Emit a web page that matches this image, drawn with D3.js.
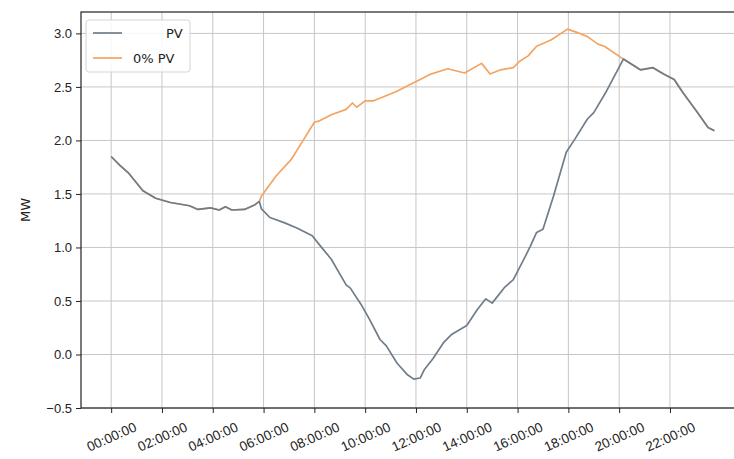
<!DOCTYPE html>
<html>
<head>
<meta charset="utf-8">
<script src="https://cdn.jsdelivr.net/npm/d3@7"></script>
<style>
  html, body { margin: 0; padding: 0; background: #fff; }
  svg { display: block; font-family: "DejaVu Sans", sans-serif; }
</style>
</head>
<body>
<svg id="chart" width="734" height="459"></svg>
<script>
// Load profile over one day (MW), with and without PV generation.
// Night hours are identical for both series.
const morningTimes = ["00:00","00:20","00:40","01:15","01:45","02:20","03:05","03:25","03:55","04:15","04:30","04:45","05:15","05:40","05:50"];
const morningMW    = [1.85, 1.77, 1.70, 1.53, 1.46, 1.42, 1.39, 1.355, 1.37, 1.35, 1.38, 1.35, 1.355, 1.40, 1.43];

const eveningTimes = ["20:10","20:50","21:20","21:45","22:10","22:30","23:05","23:30","23:45"];
const eveningMW    = [2.76, 2.66, 2.68, 2.62, 2.57, 2.45, 2.26, 2.12, 2.09];

// Daytime net load with PV
const pvDayTimes = ["05:55","06:15","06:50","07:20","07:55","08:15","08:40","09:15","09:25","09:50","10:10","10:35","10:50","11:15","11:40","11:55","12:10","12:20","12:40","13:05","13:25","14:00","14:25","14:45","15:00","15:30","15:50","16:15","16:30","16:45","17:00","17:25","17:55","18:15","18:45","19:00","19:30"];
const pvDayMW    = [1.36, 1.28, 1.23, 1.18, 1.11, 1.01, 0.89, 0.65, 0.62, 0.47, 0.33, 0.14, 0.08, -0.08, -0.19, -0.23, -0.22, -0.14, -0.04, 0.11, 0.19, 0.27, 0.42, 0.52, 0.48, 0.63, 0.70, 0.89, 1.01, 1.14, 1.17, 1.48, 1.89, 2.01, 2.20, 2.26, 2.46];

// Daytime load with 0% PV
const noPvDayTimes = ["05:55","06:30","07:05","07:35","08:00","08:10","08:40","09:15","09:30","09:40","10:00","10:20","10:45","11:15","11:45","12:10","12:35","13:15","13:55","14:35","14:55","15:20","15:50","16:05","16:25","16:45","17:20","17:58","18:20","18:45","19:10","19:25"];
const noPvDayMW    = [1.48, 1.67, 1.82, 2.01, 2.17, 2.18, 2.24, 2.29, 2.35, 2.31, 2.37, 2.37, 2.41, 2.46, 2.52, 2.57, 2.62, 2.67, 2.63, 2.72, 2.62, 2.66, 2.68, 2.74, 2.79, 2.88, 2.94, 3.04, 3.01, 2.97, 2.90, 2.88];

const xTickHours = [0, 2, 4, 6, 8, 10, 12, 14, 16, 18, 20, 22];
const yTickValues = [-0.5, 0.0, 0.5, 1.0, 1.5, 2.0, 2.5, 3.0];
const seriesNames = ["PV", "0% PV"];
const seriesColors = ["#6f7d8a", "#f3a462"];
const yLabel = "MW";

const toHours = t => { const [h, m] = t.split(":").map(Number); return h + m / 60; };
const build = (times, vals) => times.map((t, i) => ({ h: toHours(t), v: vals[i] }));

const pvSeries = build([...morningTimes, ...pvDayTimes, ...eveningTimes], [...morningMW, ...pvDayMW, ...eveningMW]);
const noPvSeries = build([...morningTimes, ...noPvDayTimes, ...eveningTimes], [...morningMW, ...noPvDayMW, ...eveningMW]);

const svg = d3.select("#chart");
const plotLeft = 81, plotTop = 12, plotBottom = 408;
const span = toHours("23:45");
const pad = span * 0.05;

const x = d3.scaleLinear().domain([-pad, span + pad]).range([plotLeft, plotLeft + 25.4 * (span + 2 * pad)]);
const y = d3.scaleLinear().domain([-0.5, 3.2]).range([plotBottom, plotTop]);
const plotRight = x.range()[1];

// Grid
const grid = svg.append("g").attr("stroke", "#c6c6c6").attr("stroke-width", 1);
grid.selectAll("line.v").data(xTickHours).join("line").attr("class", "v")
  .attr("x1", d => x(d)).attr("x2", d => x(d)).attr("y1", plotTop).attr("y2", plotBottom);
grid.selectAll("line.h").data(yTickValues).join("line").attr("class", "h")
  .attr("y1", d => y(d)).attr("y2", d => y(d)).attr("x1", plotLeft).attr("x2", plotRight);

// Lines
const line = d3.line().x(d => x(d.h)).y(d => y(d.v));
svg.append("path").datum(noPvSeries).attr("fill", "none")
  .attr("stroke", seriesColors[1]).attr("stroke-width", 1.7).attr("stroke-linejoin", "round").attr("d", line);
svg.append("path").datum(pvSeries).attr("fill", "none")
  .attr("stroke", seriesColors[0]).attr("stroke-width", 1.7).attr("stroke-linejoin", "round").attr("d", line);

// Axes
const pad2 = n => String(n).padStart(2, "0");
const xAxis = d3.axisBottom(x).tickValues(xTickHours).tickSize(5).tickPadding(4)
  .tickFormat(h => `${pad2(h)}:00:00`);
const gx = svg.append("g").attr("transform", `translate(0,${plotBottom})`).call(xAxis);
gx.select(".domain").remove();
gx.selectAll(".tick line").attr("stroke", "#222");
gx.selectAll(".tick text")
  .attr("font-size", 13.5).attr("fill", "#222")
  .attr("text-anchor", "middle").attr("dominant-baseline", "central")
  .attr("y", 0).attr("dy", 0)
  .attr("transform", "translate(0,29) rotate(-24)");

const yAxis = d3.axisLeft(y).tickValues(yTickValues).tickSize(5).tickPadding(4)
  .tickFormat(d => d3.format(".1f")(d).replace("-", "\u2212"));
const gy = svg.append("g").attr("transform", `translate(${plotLeft},0)`).call(yAxis);
gy.select(".domain").remove();
gy.selectAll(".tick line").attr("stroke", "#222");
gy.selectAll(".tick text").attr("font-size", 13).attr("fill", "#222");

// Frame
svg.append("rect").attr("x", plotLeft).attr("y", plotTop)
  .attr("width", plotRight - plotLeft).attr("height", plotBottom - plotTop)
  .attr("fill", "none").attr("stroke", "#222").attr("stroke-width", 1.2);

// Y label
svg.append("text").attr("transform", `translate(25,${(plotTop + plotBottom) / 2}) rotate(-90)`)
  .attr("text-anchor", "middle").attr("dominant-baseline", "central")
  .attr("font-size", 13).attr("fill", "#222").text(yLabel);

// Legend
const lg = svg.append("g");
lg.append("rect").attr("x", 86).attr("y", 20).attr("width", 104).attr("height", 52).attr("rx", 3)
  .attr("fill", "#fff").attr("fill-opacity", 0.85).attr("stroke", "#d4d4d4");
const entries = [
  { name: seriesNames[0], color: seriesColors[0], y: 33, tx: 166 },
  { name: seriesNames[1], color: seriesColors[1], y: 58, tx: 133 }
];
entries.forEach(e => {
  lg.append("line").attr("x1", 93).attr("x2", 122).attr("y1", e.y).attr("y2", e.y)
    .attr("stroke", e.color).attr("stroke-width", 1.7);
  lg.append("text").attr("x", e.tx).attr("y", e.y).attr("dominant-baseline", "central")
    .attr("font-size", 13).attr("fill", "#222").text(e.name);
});
</script>
</body>
</html>
